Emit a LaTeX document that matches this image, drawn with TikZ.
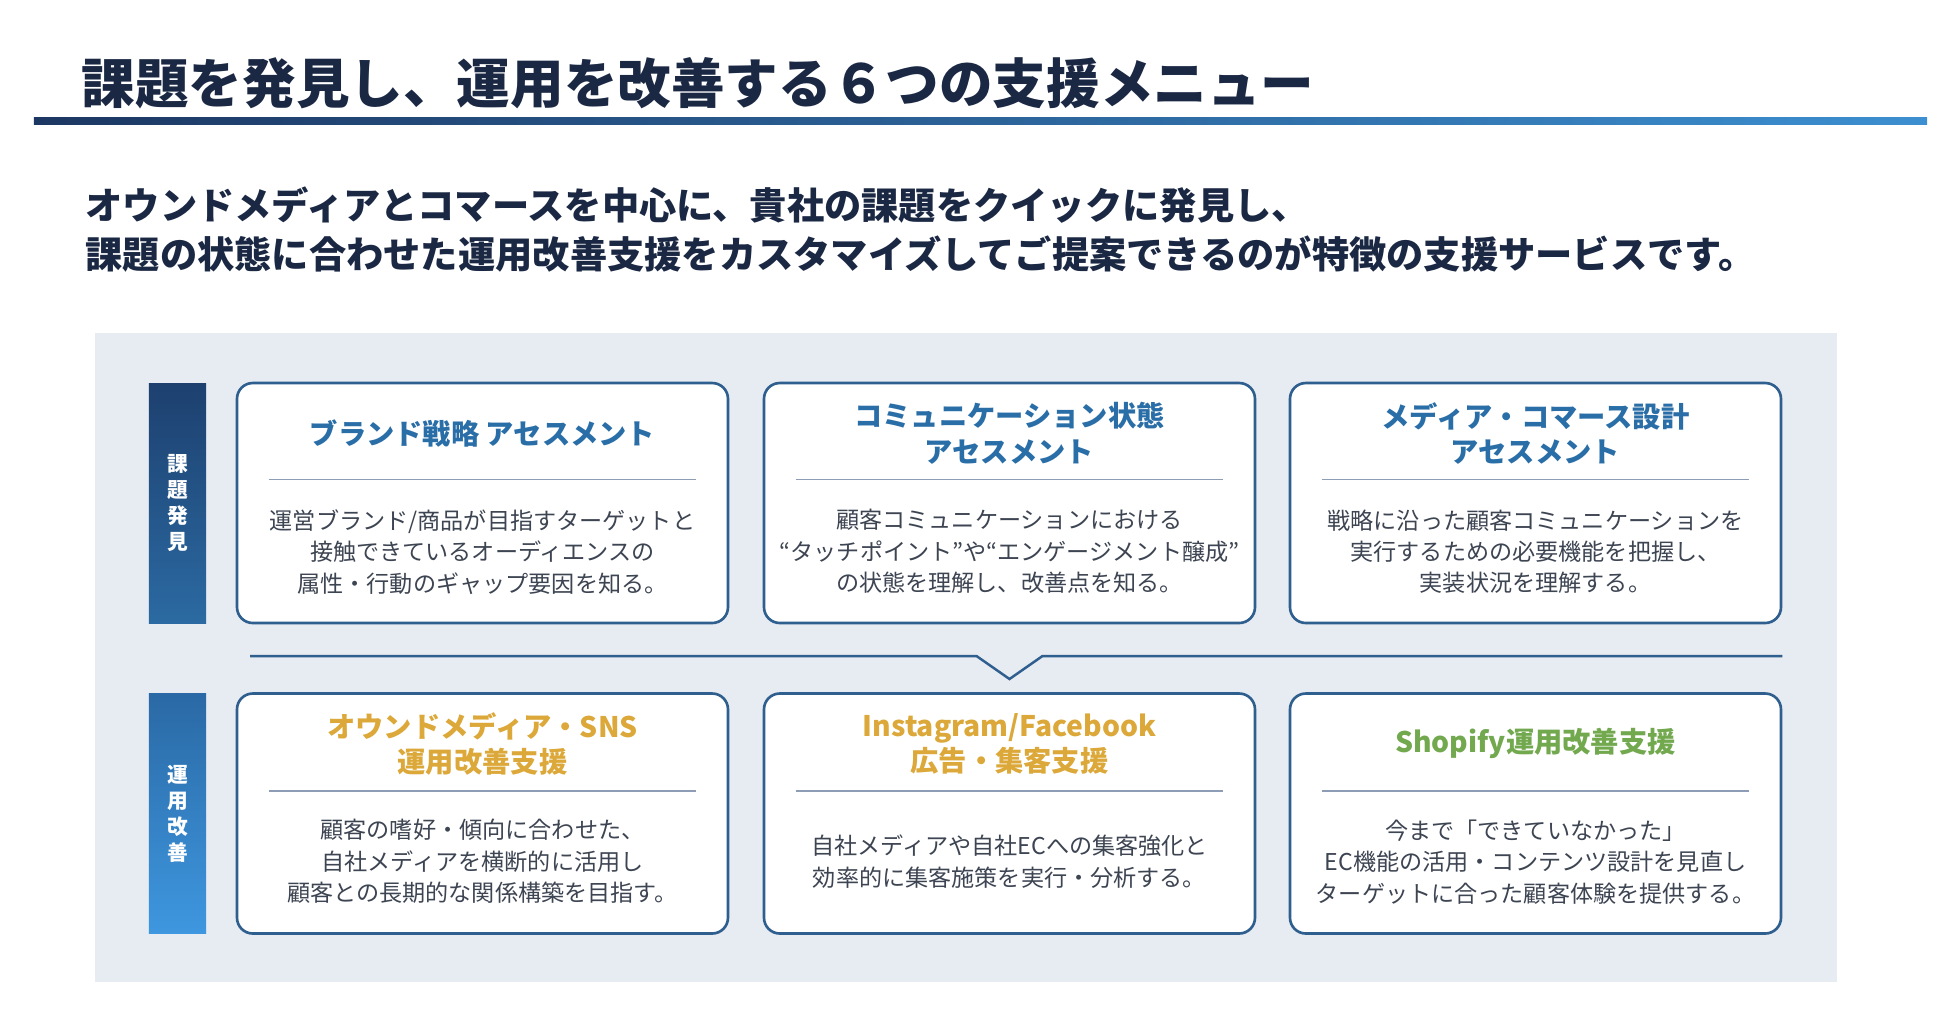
\documentclass[tikz,border=0pt]{standalone}
\usepackage{fontspec}
\setmainfont{Noto Sans CJK JP}
\usepackage{tikz}
\usetikzlibrary{positioning,calc}
\usepackage{xcolor}
\definecolor{headColor}{HTML}{1B2844}
\definecolor{ruleDarkColor}{HTML}{1C3762}
\definecolor{ruleLightColor}{HTML}{3C8FD0}
\definecolor{panelColor}{HTML}{E7EBF2}
\definecolor{findTopColor}{HTML}{1D406F}
\definecolor{findBottomColor}{HTML}{2B6AA2}
\definecolor{runTopColor}{HTML}{2A69A5}
\definecolor{runBottomColor}{HTML}{3E97DF}
\definecolor{frameColor}{HTML}{2E5F8E}
\definecolor{assessColor}{HTML}{2A6EA8}
\definecolor{supportColor}{HTML}{DCA839}
\definecolor{shopifyColor}{HTML}{72A84E}
\definecolor{bodyColor}{HTML}{3D4452}
\definecolor{dividerColor}{HTML}{8D9DB6}

\begin{document}
\begin{tikzpicture}[
    menubox/.style={rectangle, draw=frameColor, line width=0.75pt, fill=white, rounded corners=4.5pt, minimum width=4.91cm, minimum height=2.40cm, inner sep=0pt},
    sidebar/.style={rectangle, minimum width=0.57cm, minimum height=2.40cm, inner sep=0pt, text=white, font=\fontsize{5.9}{7.4}\selectfont\bfseries, align=center},
    boxtitle/.style={inner sep=0pt, align=center, font=\fontsize{8.05}{10}\selectfont\bfseries},
    boxbody/.style={inner sep=0pt, align=center, text=bodyColor, font=\fontsize{6.58}{8.96}\selectfont},
    divider/.style={draw=dividerColor, line width=0.45pt},
    rail/.style={draw=frameColor, line width=0.7pt},
  ]
  \useasboundingbox (0,0) rectangle (19.5,-10.32);

  % Heading
  \node[anchor=west, inner sep=0pt, text=headColor, font=\fontsize{15.25}{18}\selectfont\bfseries] (heading) at (0.81,-0.83) {課題を発見し、運用を改善する６つの支援メニュー};
  \shade[left color=ruleDarkColor, right color=ruleLightColor] (0.34,-1.175) rectangle (19.27,-1.245);
  \node[anchor=west, inner sep=0pt, align=left, text=headColor, font=\fontsize{10.6}{13.94}\selectfont\bfseries] (lead) at (0.85,-2.295)
    {オウンドメディアとコマースを中心に、貴社の課題をクイックに発見し、\\課題の状態に合わせた運用改善支援をカスタマイズしてご提案できるのが特徴の支援サービスです。};

  % Panel
  \fill[panelColor] (0.95,-3.33) rectangle (18.37,-9.82);

  % Side labels
  \node[sidebar, top color=findTopColor, bottom color=findBottomColor] (find) at (1.775,-5.03) {課\\題\\発\\見};
  \node[sidebar, top color=runTopColor, bottom color=runBottomColor] (run) at (1.775,-8.135) {運\\用\\改\\善};

  % Boxes
  \node[menubox] (brand)   at (4.825,-5.03)   {};
  \node[menubox] (comm)    at (10.095,-5.03)  {};
  \node[menubox] (media)   at (15.355,-5.03)  {};
  \node[menubox] (owned)   at (4.825,-8.135)  {};
  \node[menubox] (ads)     at (10.095,-8.135) {};
  \node[menubox] (shopify) at (15.355,-8.135) {};

  % Box titles
  \node[boxtitle, text=assessColor] (brandTitle) at ($(brand.north)+(0,-0.515)$) {ブランド戦略 アセスメント};
  \node[boxtitle, text=assessColor] (commTitle) at ($(comm.north)+(0,-0.515)$) {コミュニケーション状態\\アセスメント};
  \node[boxtitle, text=assessColor] (mediaTitle) at ($(media.north)+(0,-0.515)$) {メディア・コマース設計\\アセスメント};
  \node[boxtitle, text=supportColor] (ownedTitle) at ($(owned.north)+(0,-0.515)$) {オウンドメディア・SNS\\運用改善支援};
  \node[boxtitle, text=supportColor] (adsTitle) at ($(ads.north)+(0,-0.515)$) {Instagram/Facebook\\広告・集客支援};
  \node[boxtitle, text=shopifyColor] (shopifyTitle) at ($(shopify.north)+(0,-0.515)$) {Shopify運用改善支援};

  % Dividers
  \draw[divider] ($(brand.north west)+(0.33,-0.98)$) -- ($(brand.north east)+(-0.33,-0.98)$);
  \draw[divider] ($(comm.north west)+(0.33,-0.98)$) -- ($(comm.north east)+(-0.33,-0.98)$);
  \draw[divider] ($(media.north west)+(0.33,-0.98)$) -- ($(media.north east)+(-0.33,-0.98)$);
  \draw[divider] ($(owned.north west)+(0.33,-0.99)$) -- ($(owned.north east)+(-0.33,-0.99)$);
  \draw[divider] ($(ads.north west)+(0.33,-0.99)$) -- ($(ads.north east)+(-0.33,-0.99)$);
  \draw[divider] ($(shopify.north west)+(0.33,-0.99)$) -- ($(shopify.north east)+(-0.33,-0.99)$);

  % Box texts
  \node[boxbody] (brandText) at ($(brand.north)+(0,-1.70)$) {運営ブランド/商品が目指すターゲットと\\接触できているオーディエンスの\\属性・行動のギャップ要因を知る。};
  \node[boxbody] (commText) at ($(comm.north)+(0,-1.70)$) {顧客コミュニケーションにおける\\“タッチポイント”や“エンゲージメント醸成”\\の状態を理解し、改善点を知る。};
  \node[boxbody] (mediaText) at ($(media.north)+(0,-1.70)$) {戦略に沿った顧客コミュニケーションを\\実行するための必要機能を把握し、\\実装状況を理解する。};
  \node[boxbody] (ownedText) at ($(owned.north)+(0,-1.695)$) {顧客の嗜好・傾向に合わせた、\\自社メディアを横断的に活用し\\顧客との長期的な関係構築を目指す。};
  \node[boxbody] (adsText) at ($(ads.north)+(0,-1.695)$) {自社メディアや自社ECへの集客強化と\\効率的に集客施策を実行・分析する。};
  \node[boxbody] (shopifyText) at ($(shopify.north)+(0,-1.695)$) {今まで「できていなかった」\\EC機能の活用・コンテンツ設計を見直し\\ターゲットに合った顧客体験を提供する。};

  % Rail between rows
  \coordinate (railStart) at (2.50,-6.56);
  \coordinate (notchTip) at (10.095,-6.79);
  \coordinate (railEnd) at (media.east |- railStart);
  \draw[rail] (railStart) -- ($(notchTip)+(-0.33,0.23)$) -- (notchTip) -- ($(notchTip)+(0.33,0.23)$) -- (railEnd);

\end{tikzpicture}
\end{document}
